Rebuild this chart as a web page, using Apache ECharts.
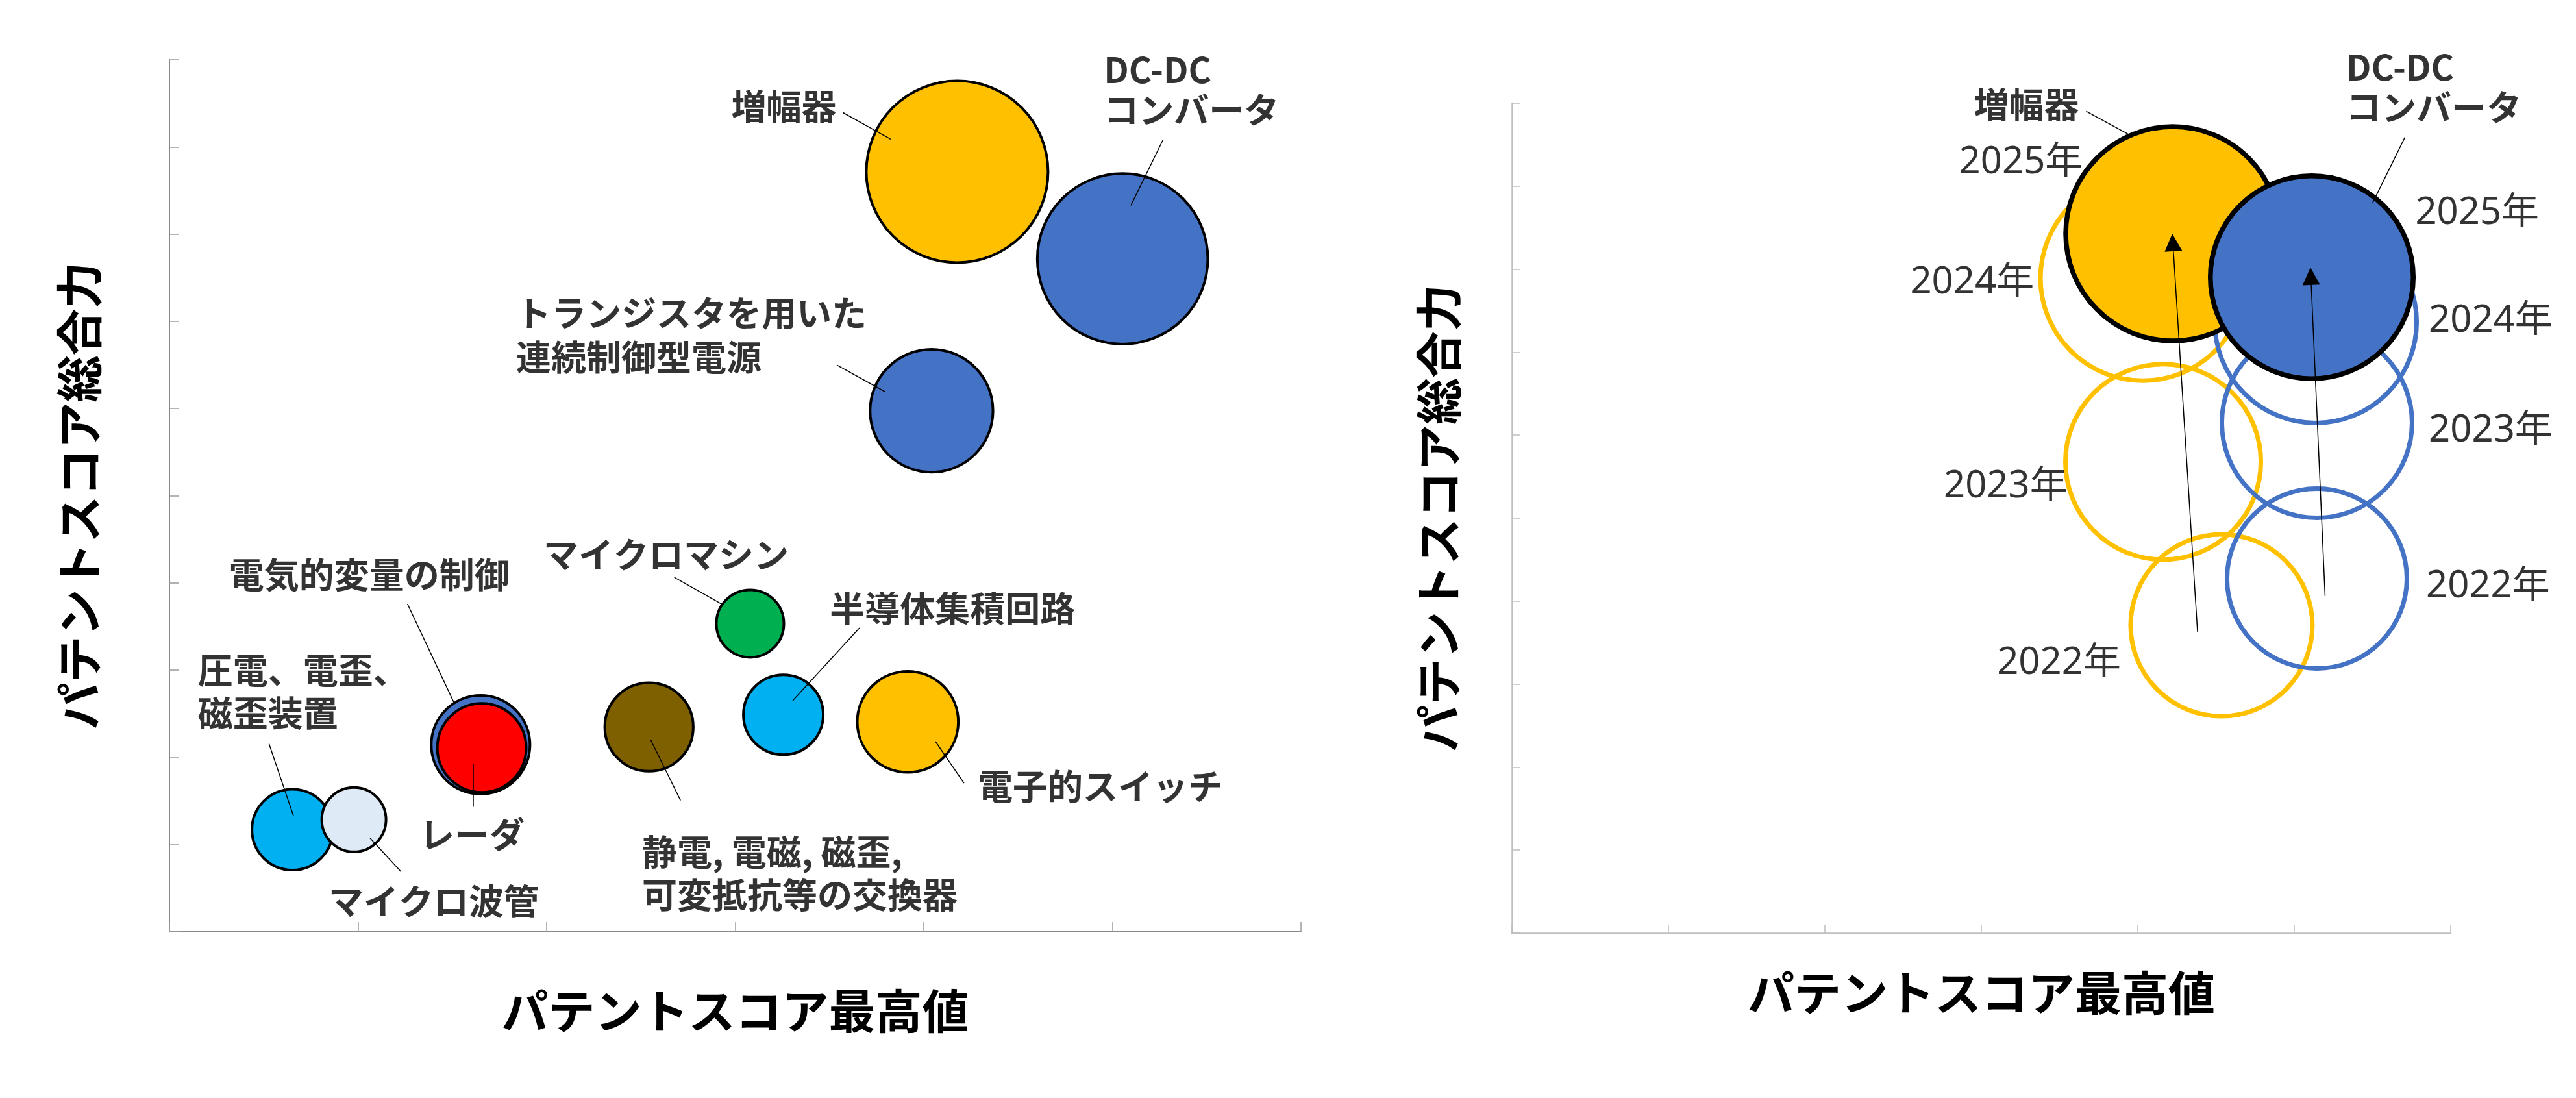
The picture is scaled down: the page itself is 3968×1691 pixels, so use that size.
<!DOCTYPE html>
<html><head><meta charset="utf-8">
<script src="https://cdn.jsdelivr.net/npm/echarts@6/dist/echarts.min.js"></script>
<style>html,body{margin:0;padding:0;background:#fff}#c{width:3968px;height:1691px}</style>
</head><body><div id="c"></div>
<script>
// ---------- Left chart data ----------
const leftNames = ['増幅器', 'DC-DCコンバータ', 'トランジスタを用いた連続制御型電源', 'マイクロマシン', '半導体集積回路',
  '電子的スイッチ', '静電,電磁,磁歪,可変抵抗等の交換器', '電気的変量の制御', 'レーダ', '圧電、電歪、磁歪装置', 'マイクロ波管'];
const leftX = [4.177, 5.054, 4.041, 3.079, 3.255, 3.915, 2.543, 1.650, 1.656, 0.652, 0.978];
const leftY = [8.716, 7.717, 5.974, 3.534, 2.489, 2.407, 2.348, 2.144, 2.109, 1.171, 1.286];
const leftSize = [100, 88, 45.7, 13.8, 19.3, 30.9, 23.7, 29.5, 23.9, 19.8, 12.5];
const leftColors = ['#FFC000', '#4472C4', '#4472C4', '#00B050', '#00B0F0', '#FFC000', '#7F6000', '#4472C4', '#FF0000', '#00B0F0', '#DEEBF7'];

// ---------- Right chart data ----------
const years = ['2022年', '2023年', '2024年', '2025年'];
const ampX = [4.535, 4.162, 4.033, 4.224];
const ampY = [3.709, 5.679, 7.892, 8.427];
const ampSize = [100, 115.6, 127.2, 138.9];
const dcX = [5.145, 5.145, 5.137, 5.112];
const dcY = [4.272, 6.150, 7.363, 7.903];
const dcSize = [97.9, 109.5, 123.4, 124.6];

// axis ticks (no labels shown)
const xTicks = [0, 1, 2, 3, 4, 5, 6];
const yTicks = [0, 1, 2, 3, 4, 5, 6, 7, 8, 9, 10];

// ---------- Annotations (data units) ----------
const leftNotes = [
  {text: '増幅器', at: [3.258, 9.457], align: 'center', line: [[3.572, 9.393], [3.824, 9.089]]},
  {text: 'DC-DC\nコンバータ', at: [4.954, 9.657], align: 'left', lh: 62, line: [[5.269, 9.084], [5.098, 8.329]]},
  {text: 'トランジスタを用いた\n連続制御型電源', at: [1.838, 6.837], align: 'left', lh: 68, line: [[3.539, 6.500], [3.793, 6.195]]},
  {text: 'マイクロマシン', at: [2.633, 4.326], align: 'center', line: [[2.677, 4.064], [2.927, 3.760]]},
  {text: '半導体集積回路', at: [4.152, 3.704], align: 'center', line: [[3.659, 3.485], [3.305, 2.651]]},
  {text: '電子的スイッチ', at: [4.936, 1.664], align: 'center', line: [[4.062, 2.182], [4.213, 1.705]]},
  {text: '静電, 電磁, 磁歪,\n可変抵抗等の交換器', at: [2.506, 0.670], align: 'left', lh: 66, line: [[2.551, 2.204], [2.710, 1.507]]},
  {text: '電気的変量の制御', at: [1.059, 4.088], align: 'center', line: [[1.262, 3.760], [1.508, 2.631]]},
  {text: 'レーダ', at: [1.604, 1.117], align: 'center', line: [[1.610, 1.923], [1.610, 1.433]]},
  {text: '圧電、電歪、\n磁歪装置', at: [0.151, 2.755], align: 'left', lh: 66, line: [[0.528, 2.156], [0.657, 1.333]]},
  {text: 'マイクロ波管', at: [1.401, 0.350], align: 'center', line: [[1.064, 1.074], [1.228, 0.688]]}
];
const rightNotes = [
  {text: '増幅器', at: [3.288, 9.984], align: 'center', bold: true, line: [[3.670, 9.903], [3.939, 9.628]]},
  {text: 'DC-DC\nコンバータ', at: [5.332, 10.188], align: 'left', bold: true, lh: 62, line: [[5.707, 9.588], [5.501, 8.800]]},
  {text: '2025年', at: [3.253, 9.284], align: 'center'},
  {text: '2024年', at: [2.941, 7.840], align: 'center'},
  {text: '2023年', at: [3.155, 5.376], align: 'center'},
  {text: '2022年', at: [3.496, 3.255], align: 'center'},
  {text: '2025年', at: [6.169, 8.674], align: 'center'},
  {text: '2024年', at: [6.255, 7.375], align: 'center'},
  {text: '2023年', at: [6.255, 6.049], align: 'center'},
  {text: '2022年', at: [6.238, 4.178], align: 'center'}
];
const arrows = [
  [[4.382, 3.625], [4.224, 8.322]],
  [[5.197, 4.064], [5.106, 7.915]]
];

const CJK = '"Noto Sans CJK JP", "Noto Sans", sans-serif';
const YEARF = '"Noto Sans", "Noto Sans CJK JP", sans-serif';
const sym = v => Math.sqrt(v[2]) * 28;

function axisPair(leftStyle) {
  const axisCol = leftStyle ? '#898989' : '#BFBFBF';
  const tickCol = leftStyle ? '#9A9A9A' : '#BFBFBF';
  const lw = leftStyle ? 2 : 2.5;
  const tl = leftStyle ? 15 : 12;
  const common = {
    type: 'value', splitLine: {show: false},
    axisLabel: {show: false},
    axisLine: {show: true, onZero: false, lineStyle: {color: axisCol, width: lw}},
    axisTick: {show: true, inside: true, length: tl, lineStyle: {color: tickCol, width: 1.5}},
    nameLocation: 'middle',
    nameTextStyle: {fontSize: 72, fontWeight: 'bold', color: '#000', fontFamily: CJK}
  };
  return {
    x: Object.assign({}, common, {min: xTicks[0], max: xTicks[xTicks.length - 1], interval: 1,
      name: 'パテントスコア最高値', nameGap: leftStyle ? 86 : 56}),
    y: Object.assign({}, common, {min: yTicks[0], max: yTicks[yTicks.length - 1], interval: 1,
      name: 'パテントスコア総合力', nameGap: leftStyle ? 103 : 77})
  };
}
const aL = axisPair(true), aR = axisPair(false);
aL.x.gridIndex = 0; aL.y.gridIndex = 0; aR.x.gridIndex = 1; aR.y.gridIndex = 1;

function noteSeries(notes, ax, isLeft) {
  return {
    type: 'scatter', xAxisIndex: ax, yAxisIndex: ax, clip: false, silent: true, z: 10,
    symbolSize: 0, itemStyle: {color: 'transparent'},
    data: notes.map(n => ({
      value: n.at,
      label: {
        show: true, position: 'inside', formatter: n.text, align: n.align, verticalAlign: 'middle',
        color: '#000',
        fontSize: (isLeft || n.bold) ? 54 : 58,
        fontWeight: (isLeft || n.bold) ? 'bold' : 'normal',
        fontFamily: (isLeft || n.bold) ? CJK : YEARF,
        lineHeight: n.lh || 66
      }
    }))
  };
}
function leaderSeries(notes, ax) {
  return {
    type: 'lines', coordinateSystem: 'cartesian2d', xAxisIndex: ax, yAxisIndex: ax, silent: true, z: 9,
    lineStyle: {color: '#000', width: 1.5, opacity: 1},
    data: notes.filter(n => n.line).map(n => ({coords: n.line}))
  };
}

const leftData = leftNames.map((n, i) => ({
  name: n, value: [leftX[i], leftY[i], leftSize[i]],
  itemStyle: {color: leftColors[i]}
}));
const ring = (xs, ys, ss, idx) => idx.map(i => ({name: years[i], value: [xs[i], ys[i], ss[i]]}));

const option = {
  animation: false,
  backgroundColor: '#fff',
  grid: [
    {left: 261, top: 92, width: 1743, height: 1343},
    {left: 2329, top: 159, width: 1446, height: 1278}
  ],
  xAxis: [aL.x, aR.x],
  yAxis: [aL.y, aR.y],
  series: [
    {
      type: 'scatter', xAxisIndex: 0, yAxisIndex: 0, silent: true, clip: false,
      symbolSize: sym, itemStyle: {borderColor: '#000', borderWidth: 4, opacity: 1},
      data: leftData
    },
    leaderSeries(leftNotes, 0),
    noteSeries(leftNotes, 0, true),
    {
      type: 'scatter', xAxisIndex: 1, yAxisIndex: 1, silent: true, clip: false, z: 2,
      symbolSize: sym, itemStyle: {color: 'rgba(0,0,0,0)', borderColor: '#FFC000', borderWidth: 7, opacity: 1},
      data: ring(ampX, ampY, ampSize, [0, 1, 2])
    },
    {
      type: 'scatter', xAxisIndex: 1, yAxisIndex: 1, silent: true, clip: false, z: 2,
      symbolSize: sym, itemStyle: {color: 'rgba(0,0,0,0)', borderColor: '#4472C4', borderWidth: 7, opacity: 1},
      data: ring(dcX, dcY, dcSize, [0, 1, 2])
    },
    {
      type: 'scatter', xAxisIndex: 1, yAxisIndex: 1, silent: true, clip: false, z: 3,
      symbolSize: sym, itemStyle: {color: '#FFC000', borderColor: '#000', borderWidth: 7.5, opacity: 1},
      data: ring(ampX, ampY, ampSize, [3])
    },
    {
      type: 'scatter', xAxisIndex: 1, yAxisIndex: 1, silent: true, clip: false, z: 4,
      symbolSize: sym, itemStyle: {color: '#4472C4', borderColor: '#000', borderWidth: 7.5, opacity: 1},
      data: ring(dcX, dcY, dcSize, [3])
    },
    {
      type: 'lines', coordinateSystem: 'cartesian2d', xAxisIndex: 1, yAxisIndex: 1, silent: true, z: 8,
      symbol: ['none', 'triangle'], symbolSize: [26, 27],
      lineStyle: {color: '#000', width: 1.5, opacity: 1},
      itemStyle: {color: '#000'},
      data: arrows.map(a => ({coords: a}))
    },
    leaderSeries(rightNotes, 1),
    noteSeries(rightNotes, 1, false)
  ]
};
const chart = echarts.init(document.getElementById('c'), null, {renderer: 'canvas', width: 3968, height: 1691});
chart.setOption(option);
</script>
</body></html>
